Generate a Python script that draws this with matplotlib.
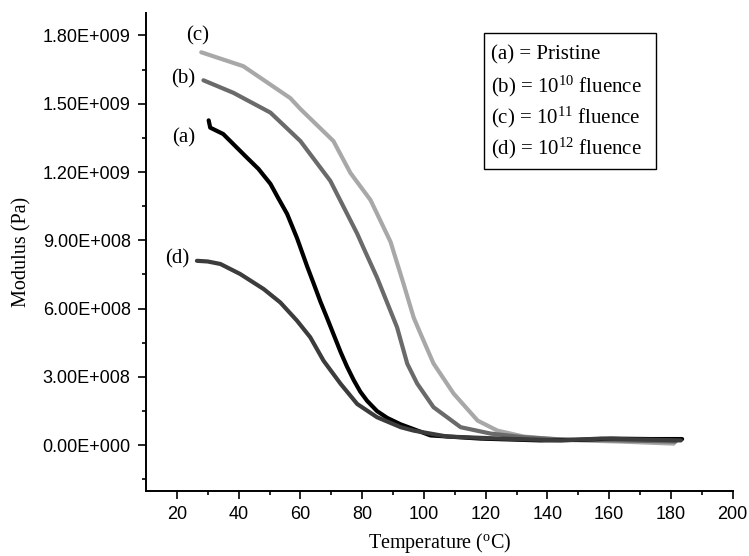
import matplotlib
matplotlib.use('Agg')
import matplotlib.pyplot as plt
from matplotlib.patches import Rectangle
import numpy as np

# Temperature (C) and modulus (x1e8 Pa)
temp_a = [30.3, 30.8, 35.0, 42.7, 46.4, 50.3, 52.8, 55.7, 58.9, 62.2, 64.3, 66.5, 68.6,
          70.8, 73.0, 75.1, 77.3, 79.4, 81.6, 84.8, 88.1, 92.4, 102.1, 118.3, 137.7,
          149.1, 160.5, 173.4, 183.6]
mod_a = [14.27, 13.95, 13.67, 12.63, 12.14, 11.48, 10.86, 10.16, 9.10, 7.85, 7.10, 6.30,
         5.60, 4.85, 4.10, 3.45, 2.85, 2.35, 1.95, 1.50, 1.20, 0.92, 0.43, 0.29, 0.21,
         0.23, 0.29, 0.27, 0.27]

temp_b = [28.6, 38.3, 50.3, 60.0, 69.7, 78.4, 80.4, 84.8, 91.3, 94.6, 97.8, 103.1,
          111.9, 121.6, 132.3, 144.3, 163.7, 181.5]
mod_b = [16.03, 15.48, 14.61, 13.36, 11.61, 9.29, 8.68, 7.37, 5.18, 3.58, 2.71, 1.67,
         0.79, 0.51, 0.35, 0.25, 0.21, 0.16]

temp_c = [27.9, 41.5, 56.7, 60.0, 70.7, 76.2, 82.7, 89.2, 93.4, 96.7, 98.9, 103.1,
          109.6, 117.4, 123.8, 132.3, 140.0, 150.7, 163.7, 180.9]
mod_c = [17.26, 16.65, 15.25, 14.77, 13.36, 11.96, 10.77, 8.93, 7.09, 5.60, 4.90, 3.59,
         2.27, 1.08, 0.64, 0.38, 0.29, 0.21, 0.16, 0.07]

temp_d = [26.5, 30.0, 34.1, 40.5, 48.1, 53.5, 58.9, 63.2, 67.5, 73.0, 78.4, 84.8,
          92.5, 96.7, 107.5, 124.9, 144.3, 157.2, 170.2, 183.2]
mod_d = [8.10, 8.07, 7.96, 7.52, 6.86, 6.27, 5.47, 4.74, 3.71, 2.70, 1.81, 1.23,
         0.79, 0.64, 0.38, 0.29, 0.21, 0.29, 0.25, 0.21]

ytick_vals = [0, 3e8, 6e8, 9e8, 1.2e9, 1.5e9, 1.8e9]
ytick_labels = ['0.00E+000', '3.00E+008', '6.00E+008', '9.00E+008',
                '1.20E+009', '1.50E+009', '1.80E+009']
xtick_vals = [20, 40, 60, 80, 100, 120, 140, 160, 180, 200]

legend_lines = ['(a) = Pristine', r'(b) = 10$^{10}$ fluence',
                r'(c) = 10$^{11}$ fluence', r'(d) = 10$^{12}$ fluence']

serif = 'Liberation Serif'
plt.rcParams['mathtext.fontset'] = 'custom'
plt.rcParams['mathtext.rm'] = serif
plt.rcParams['mathtext.it'] = serif + ':italic'

fig = plt.figure(figsize=(7.49, 5.56), dpi=100)
ax = fig.add_axes([0.1949, 0.1174, 0.7834, 0.8598])

# curves
style = dict(lw=3, solid_joinstyle='round', solid_capstyle='round')
ax.plot(temp_c, np.array(mod_c) * 1e8, color='#a8a8a8', **style)
ax.plot(temp_b, np.array(mod_b) * 1e8, color='#6a6a6a', **style)
ax.plot(temp_a, np.array(mod_a) * 1e8, color='black', **style)
ax.plot(temp_d, np.array(mod_d) * 1e8, color='#3c3c3c', **style)

# curve tags
ax.text(26.6, 17.97e8, '(c)', family=serif, fontsize=15, ha='center', va='center')
ax.text(22.1, 16.08e8, '(b)', family=serif, fontsize=15, ha='center', va='center')
ax.text(22.1, 13.50e8, '(a)', family=serif, fontsize=15, ha='center', va='center')
ax.text(20.1, 8.19e8, '(d)', family=serif, fontsize=15, ha='center', va='center')

ax.set_xlim(10, 200)
ax.set_ylim(-2e8, 1.9e9)

ax.spines['top'].set_visible(False)
ax.spines['right'].set_visible(False)
ax.spines['left'].set_linewidth(1.4)
ax.spines['bottom'].set_linewidth(1.4)

ax.set_xticks(xtick_vals)
ax.set_xticks(np.arange(30, 200, 20), minor=True)
ax.set_yticks(ytick_vals)
ax.set_yticklabels(ytick_labels)
ax.set_yticks(np.arange(-1.5e8, 1.9e9, 3e8), minor=True)
ax.tick_params(which='major', length=6, width=1.2, labelsize=13, pad=5)
ax.tick_params(which='minor', length=3, width=1.2)
for lab in ax.get_xticklabels() + ax.get_yticklabels():
    lab.set_family('Liberation Sans')

ax.set_xlabel(r'Temperature ($^{\mathrm{o}}$C)', family=serif, fontsize=14.5)
ax.set_ylabel('Modulus (Pa)', family=serif, fontsize=14.5)
ax.xaxis.set_label_coords(0.5, -0.085)
ax.yaxis.set_label_coords(-0.195, 0.5)

# legend box
ax.add_patch(Rectangle((0.576, 0.672), 0.293, 0.285, transform=ax.transAxes,
                       fill=False, edgecolor='black', lw=1.0))
for i, line in enumerate(legend_lines):
    ax.text(0.588, 0.911 - i * 0.065, line, transform=ax.transAxes,
            family=serif, fontsize=15, ha='left', va='center')

fig.savefig('out.png', dpi=100)
